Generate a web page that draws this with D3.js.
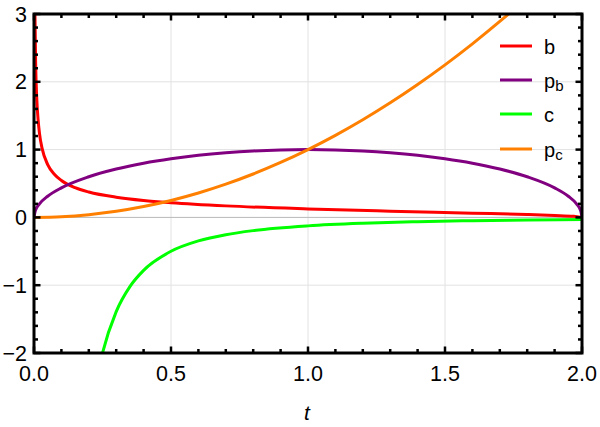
<!DOCTYPE html>
<html><head><meta charset="utf-8">
<script src="https://cdn.jsdelivr.net/npm/d3@7"></script>
<style>body{margin:0;background:#fff;} text{font-family:"Liberation Sans",Arial,sans-serif;}</style>
</head><body><svg id="c" width="600" height="427"></svg>
<script>
// Data
const tB  = [0.0035,0.006,0.01,0.015,0.02,0.03,0.05,0.075,0.1,0.15,0.2,0.3,0.4,0.5,0.7,1.0,1.3,1.6,1.8,1.9,1.97,2.0];
const bVals = [2.99,2.28,1.76,1.44,1.24,1.01,0.78,0.633,0.545,0.439,0.375,0.298,0.25,0.217,0.170,0.125,0.0917,0.0625,0.0417,0.0287,0.0154,0];
const tPb = [0,0.005,0.02,0.05,0.1,0.2,0.3,0.4,0.5,0.6,0.7,0.8,0.9,1.0,1.1,1.2,1.3,1.4,1.5,1.6,1.7,1.8,1.9,1.95,1.98,1.995,2.0];
const pbVals = [0,0.0999,0.199,0.312,0.436,0.6,0.714,0.8,0.866,0.917,0.954,0.98,0.995,1,0.995,0.98,0.954,0.917,0.866,0.8,0.714,0.6,0.436,0.312,0.199,0.0999,0];
const tC  = [0.24,0.25,0.3,0.35,0.4,0.5,0.6,0.7,0.8,1.0,1.2,1.4,1.6,1.8,2.0];
const cVals = [-2.17,-2.0,-1.389,-1.02,-0.781,-0.5,-0.347,-0.255,-0.195,-0.125,-0.0868,-0.0638,-0.0488,-0.0386,-0.03125];
const tPc = [0,0.1,0.2,0.3,0.4,0.5,0.6,0.7,0.8,0.9,1.0,1.1,1.2,1.3,1.4,1.5,1.6,1.7,1.75];
const pcVals = [0,0.01,0.04,0.09,0.16,0.25,0.36,0.49,0.64,0.81,1,1.21,1.44,1.69,1.96,2.25,2.56,2.89,3.0625];
const xTicks = [0,0.5,1,1.5,2];
const xTickLabels = ["0.0","0.5","1.0","1.5","2.0"];
const yTicks = [-2,-1,0,1,2,3];
const yTickLabels = ["\u22122","\u22121","0","1","2","3"];
const seriesNames = ["b","p","c","p"];
const seriesSubs = ["","b","","c"];
const colors = ["#ff0000","#800080","#00ff00","#ff8000"];

const L=34,R=582,T=14,B=353;
const x=d3.scaleLinear().domain([0,2]).range([L,R]);
const y=d3.scaleLinear().domain([-2,3]).range([B,T]);
const svg=d3.select("#c");

// grid
const g=svg.append("g");
xTicks.slice(1,-1).forEach(v=>g.append("line").attr("x1",x(v)).attr("x2",x(v)).attr("y1",T).attr("y2",B).attr("stroke","#e2e2e2").attr("stroke-width",1));
yTicks.slice(1,-1).forEach(v=>g.append("line").attr("x1",L).attr("x2",R).attr("y1",y(v)).attr("y2",y(v)).attr("stroke",v===0?"#b8b8b8":"#e2e2e2").attr("stroke-width",1));

svg.append("clipPath").attr("id","clip").append("rect").attr("x",L).attr("y",T).attr("width",R-L).attr("height",B-T);
const series=[[tB,bVals],[tPb,pbVals],[tC,cVals],[tPc,pcVals]];
const line=d3.line().x(d=>x(d[0])).y(d=>y(d[1])).curve(d3.curveMonotoneX);
const pg=svg.append("g").attr("clip-path","url(#clip)");
series.forEach((s,i)=>{
  const pts=s[0].map((t,j)=>[t,s[1][j]]);
  pg.append("path").attr("d",line(pts)).attr("fill","none").attr("stroke",colors[i]).attr("stroke-width",3);
});

// frame ticks
const tk=svg.append("g").attr("stroke","#000");
const xMinor=d3.range(0,2.0001,0.1);
xMinor.forEach(v=>{
  const major=Math.abs(v*2-Math.round(v*2))<1e-6;
  const len=major?6.5:4;
  tk.append("line").attr("x1",x(v)).attr("x2",x(v)).attr("y1",B).attr("y2",B-len).attr("stroke-width",2.5);
  tk.append("line").attr("x1",x(v)).attr("x2",x(v)).attr("y1",T).attr("y2",T+len).attr("stroke-width",2.5);
});
const yMinor=d3.range(-2,3.0001,0.2);
yMinor.forEach(v=>{
  const major=Math.abs(v-Math.round(v))<1e-6;
  const len=major?6.5:4;
  tk.append("line").attr("y1",y(v)).attr("y2",y(v)).attr("x1",L).attr("x2",L+len).attr("stroke-width",2.5);
  tk.append("line").attr("y1",y(v)).attr("y2",y(v)).attr("x1",R).attr("x2",R-len).attr("stroke-width",2.5);
});
svg.append("rect").attr("x",L).attr("y",T).attr("width",R-L).attr("height",B-T).attr("fill","none").attr("stroke","#000").attr("stroke-width",3);

// labels
xTicks.forEach((v,i)=>svg.append("text").attr("x",x(v)).attr("y",381).attr("text-anchor","middle").attr("font-size",21.5).text(xTickLabels[i]));
yTicks.forEach((v,i)=>svg.append("text").attr("x",27).attr("y",y(v)+7.5).attr("text-anchor","end").attr("font-size",21.5).text(yTickLabels[i]));
svg.append("text").attr("x",x(1)-1).attr("y",420).attr("text-anchor","middle").attr("font-size",21).attr("font-style","italic").text("t");

// legend
const legY=[46,80,114,149];
seriesNames.forEach((n,i)=>{
  svg.append("line").attr("x1",500).attr("x2",532).attr("y1",legY[i]).attr("y2",legY[i]).attr("stroke",colors[i]).attr("stroke-width",3);
  const t=svg.append("text").attr("x",544).attr("y",legY[i]+8).attr("font-size",20).text(n);
  if(seriesSubs[i]) t.append("tspan").attr("font-size",15).attr("dy",3).text(seriesSubs[i]);
});
</script></body></html>
